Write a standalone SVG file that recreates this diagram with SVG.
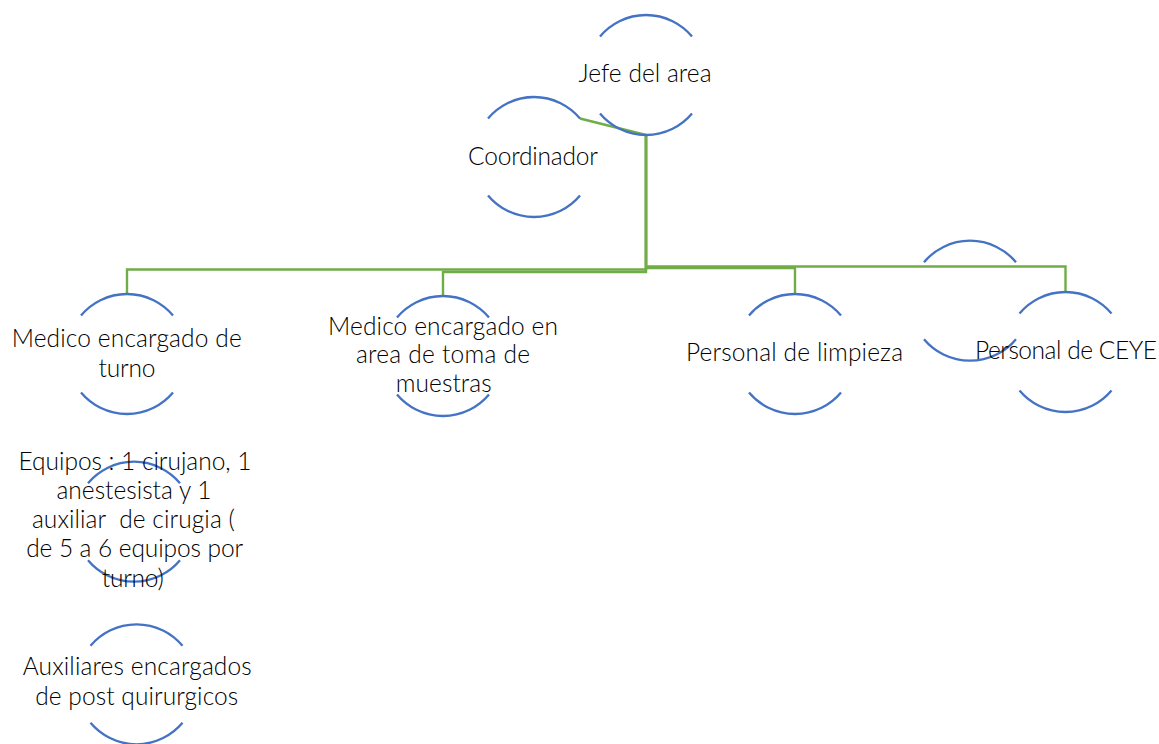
<svg xmlns="http://www.w3.org/2000/svg" xmlns:xlink="http://www.w3.org/1999/xlink" width="1159" height="744" viewBox="0 0 1159 744">
<style>
.arc{fill:none;stroke:#4472C4;stroke-width:2.3}
.con{fill:none;stroke:#70AD47;stroke-width:2.4}
.t{font-family:Lato,"Liberation Sans",sans-serif;font-weight:300;font-size:24.5px;fill:#000000;text-anchor:middle}
</style>
<defs>
<path id="ring" class="arc" d="M-46,-38.5 A60,60 0 0 1 46,-38.5 M-46,38.5 A60,60 0 0 0 46,38.5"/>
</defs>
<rect width="1159" height="744" fill="#ffffff"/>
<g id="connectors">
<path class="con" d="M646,135 V269.5 H127 V294"/>
<path class="con" d="M646,135 V272 H443 V296"/>
<path class="con" d="M646,135 V268 H795 V294"/>
<path class="con" d="M646,135 V266.5 H1065.5 V292"/>
<path class="con" d="M646,135 L580,118.5"/>
</g>
<g id="jefe">
<use xlink:href="#ring" x="646" y="75"/>
<text class="t" x="645" y="81.5" textLength="133">Jefe del area</text>
</g>
<g id="coordinador">
<use xlink:href="#ring" x="534" y="157"/>
<text class="t" x="533" y="165" textLength="130">Coordinador</text>
</g>
<g id="medico-turno">
<use xlink:href="#ring" x="127" y="354"/>
<text class="t" x="126.7" y="347" textLength="230">Medico encargado de</text>
<text class="t" x="127" y="376.7" textLength="57">turno</text>
</g>
<g id="medico-toma">
<use xlink:href="#ring" x="443" y="356"/>
<text class="t" x="443" y="335" textLength="230">Medico encargado en</text>
<text class="t" x="443" y="363.3" textLength="174">area de toma de</text>
<text class="t" x="443.7" y="391.7" textLength="96">muestras</text>
</g>
<g id="personal-limpieza">
<use xlink:href="#ring" x="795" y="354"/>
<text class="t" x="794.5" y="361" textLength="217">Personal de limpieza</text>
</g>
<g id="vacio">
<use xlink:href="#ring" x="970" y="300.7"/>
</g>
<g id="personal-ceye">
<use xlink:href="#ring" x="1065.5" y="352"/>
<text class="t" x="1066" y="359" textLength="182">Personal de CEYE</text>
</g>
<g id="equipos">
<use xlink:href="#ring" x="134" y="521.7"/>
<text class="t" x="135" y="470" textLength="233">Equipos : 1 cirujano, 1</text>
<text class="t" x="134" y="499.3" textLength="155">anestesista y 1</text>
<text class="t" x="133.4" y="528.3" textLength="203" xml:space="preserve">auxiliar  de cirugia (</text>
<text class="t" x="134.7" y="557.3" textLength="217">de 5 a 6 equipos por</text>
<text class="t" x="132.8" y="586.7" textLength="62">turno)</text>
</g>
<g id="auxiliares">
<use xlink:href="#ring" x="136.5" y="684.3"/>
<text class="t" x="137.2" y="675" textLength="229">Auxiliares encargados</text>
<text class="t" x="136.7" y="705" textLength="203">de post quirurgicos</text>
</g>
</svg>
